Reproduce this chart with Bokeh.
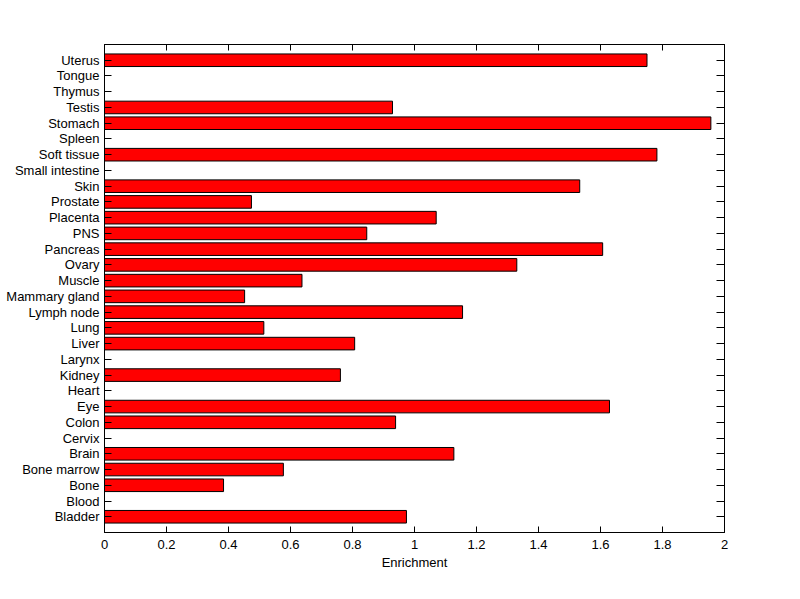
from bokeh.plotting import figure
from bokeh.models import ColumnDataSource, Range1d, FixedTicker, LinearAxis, CustomJSTickFormatter
from bokeh.embed import file_html
from bokeh.resources import INLINE

tissues = ["Bladder", "Blood", "Bone", "Bone marrow", "Brain", "Cervix", "Colon", "Eye",
           "Heart", "Kidney", "Larynx", "Liver", "Lung", "Lymph node", "Mammary gland",
           "Muscle", "Ovary", "Pancreas", "PNS", "Placenta", "Prostate", "Skin",
           "Small intestine", "Soft tissue", "Spleen", "Stomach", "Testis", "Thymus",
           "Tongue", "Uterus"]
enrichment = [0.974, 0, 0.384, 0.577, 1.127, 0, 0.939, 1.629,
              0, 0.761, 0, 0.807, 0.514, 1.155, 0.452,
              0.637, 1.330, 1.607, 0.846, 1.070, 0.474, 1.533,
              0, 1.782, 0, 1.956, 0.929, 0,
              0, 1.750]
x_ticks = [0, 0.2, 0.4, 0.6, 0.8, 1.0, 1.2, 1.4, 1.6, 1.8, 2.0]
x_tick_labels = ["0", "0.2", "0.4", "0.6", "0.8", "1", "1.2", "1.4", "1.6", "1.8", "2"]
x_label = "Enrichment"

positions = list(range(1, len(tissues) + 1))
src = ColumnDataSource(dict(y=positions, value=enrichment, name=tissues))

FONT = "Liberation Sans"
FS = "13px"

p = figure(width=790, height=590,
           min_border_left=104, min_border_right=66, min_border_top=44, min_border_bottom=58,
           x_range=Range1d(0, 2), y_range=Range1d(0, len(tissues) + 1),
           output_backend="svg", toolbar_location=None,
           x_axis_location=None, y_axis_location=None)
p.background_fill_color = "white"
p.border_fill_color = "white"
p.outline_line_color = "black"
p.outline_line_width = 1
p.xgrid.visible = False
p.ygrid.visible = False

p.hbar(y="y", right="value", left=0, height=0.8, source=src,
       fill_color="#ff0000", line_color="black", line_width=1)

xt = FixedTicker(ticks=x_ticks)
yt = FixedTicker(ticks=positions)
blank = CustomJSTickFormatter(code="return ''")

def style(ax, tick_len):
    ax.major_tick_in = tick_len
    ax.major_tick_out = 0
    ax.minor_tick_in = 0
    ax.minor_tick_out = 0
    ax.axis_line_color = "black"
    ax.major_tick_line_color = "black"
    ax.major_label_text_font = FONT
    ax.major_label_text_font_size = FS
    ax.major_label_text_color = "black"
    ax.axis_label_text_font = FONT
    ax.axis_label_text_font_size = FS
    ax.axis_label_text_font_style = "normal"
    ax.axis_label_text_color = "black"

bottom = LinearAxis(ticker=xt, axis_label=x_label,
                    major_label_overrides={t: l for t, l in zip(x_ticks, x_tick_labels)})
style(bottom, 6)
bottom.major_label_standoff = 7
bottom.axis_label_standoff = 3
p.add_layout(bottom, "below")

top = LinearAxis(ticker=xt, formatter=blank)
style(top, 6)
p.add_layout(top, "above")

left = LinearAxis(ticker=yt, major_label_overrides={pos: n for pos, n in zip(positions, tissues)})
style(left, 7)
left.major_label_standoff = 5
p.add_layout(left, "left")

right = LinearAxis(ticker=yt, formatter=blank)
style(right, 8)
p.add_layout(right, "right")

open("out.html", "w").write(file_html(p, INLINE))
